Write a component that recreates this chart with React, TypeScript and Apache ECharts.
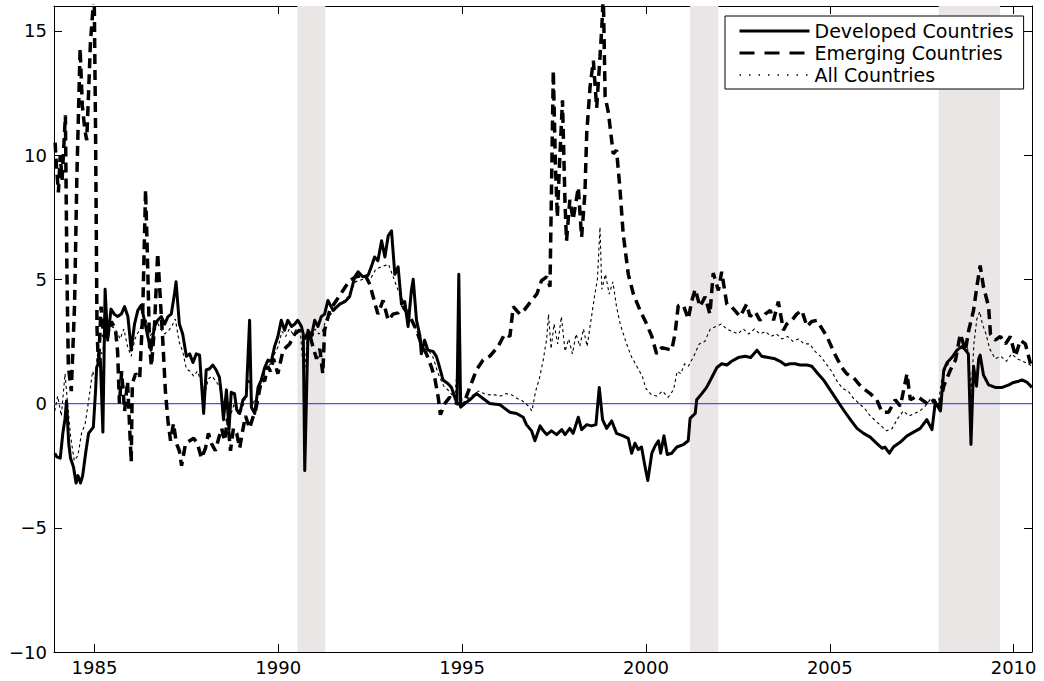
import { useEffect, useRef } from 'react';
import * as echarts from 'echarts';

const X_MIN = 1983.9;
const X_MAX = 2010.5;
const Y_MIN = -10;
const Y_MAX = 16;
const xTicks = [1985, 1990, 1995, 2000, 2005, 2010];
const yTicks = [-10, -5, 0, 5, 10, 15];
const seriesNames = ['Developed Countries', 'Emerging Countries', 'All Countries'];
const recessions = [[1990.52, 1991.28], [2001.2, 2001.97], [2007.96, 2009.63]];

const developed = [
  [1983.92, -2.0], [1983.98, -2.15], [1984.07, -2.2], [1984.14, -1.2], [1984.2, -0.6], [1984.24, 0.1], [1984.3, -1.6],
  [1984.35, -2.2], [1984.43, -2.55], [1984.5, -3.2], [1984.55, -2.9], [1984.62, -3.2], [1984.68, -2.9], [1984.76, -2.0],
  [1984.84, -1.2], [1984.97, -0.95], [1985.03, 0.5], [1985.06, 1.45], [1985.16, 1.8], [1985.23, -1.15], [1985.29, 4.6],
  [1985.36, 2.55], [1985.45, 3.8], [1985.54, 3.6], [1985.63, 3.5], [1985.73, 3.6], [1985.82, 3.9], [1985.91, 3.5],
  [1986.0, 2.15], [1986.09, 3.2], [1986.18, 3.75], [1986.27, 3.95], [1986.36, 3.35], [1986.45, 2.7], [1986.54, 2.15],
  [1986.63, 3.1], [1986.72, 3.35], [1986.82, 3.5], [1986.91, 3.2], [1987.0, 3.5], [1987.09, 3.6], [1987.18, 4.45],
  [1987.22, 4.9], [1987.31, 3.2], [1987.4, 2.8], [1987.5, 1.9], [1987.59, 2.0], [1987.68, 1.65], [1987.77, 2.0],
  [1987.86, 1.95], [1987.9, 1.05], [1987.97, -0.4], [1988.04, 1.35], [1988.13, 1.4], [1988.22, 1.55], [1988.31, 1.35],
  [1988.4, 1.05], [1988.45, 0.4], [1988.51, -0.65], [1988.59, 0.55], [1988.66, -1.05], [1988.72, 0.45], [1988.81, 0.4],
  [1988.87, -0.25], [1988.95, -0.4], [1989.04, 0.15], [1989.13, 0.3], [1989.22, 3.35], [1989.27, -0.15], [1989.36, -0.4],
  [1989.45, 0.65], [1989.54, 0.95], [1989.63, 1.45], [1989.72, 1.75], [1989.81, 1.7], [1989.9, 2.3], [1989.99, 2.7],
  [1990.08, 3.35], [1990.17, 2.95], [1990.26, 3.35], [1990.36, 3.1], [1990.45, 3.2], [1990.53, 3.35], [1990.63, 3.1],
  [1990.68, 2.8], [1990.72, -2.7], [1990.81, 2.95], [1990.9, 2.7], [1990.99, 3.35], [1991.08, 3.1], [1991.17, 3.5],
  [1991.26, 3.6], [1991.35, 4.15], [1991.49, 3.75], [1991.67, 4.0], [1991.81, 4.1], [1991.94, 4.3], [1992.08, 5.1],
  [1992.17, 5.3], [1992.3, 5.1], [1992.44, 5.15], [1992.53, 5.5], [1992.62, 5.9], [1992.71, 5.75], [1992.81, 6.55],
  [1992.9, 5.9], [1992.99, 6.75], [1993.08, 6.95], [1993.17, 5.2], [1993.26, 5.5], [1993.35, 4.0], [1993.44, 4.1],
  [1993.53, 3.1], [1993.62, 4.55], [1993.67, 5.0], [1993.76, 3.35], [1993.85, 2.75], [1993.89, 2.0], [1993.98, 2.55],
  [1994.07, 2.15], [1994.21, 2.1], [1994.3, 1.9], [1994.39, 1.45], [1994.48, 0.95], [1994.62, 0.8], [1994.71, 0.65],
  [1994.8, 0.25], [1994.86, 0.0], [1994.91, 5.2], [1994.96, -0.15], [1995.07, 0.0], [1995.21, 0.15], [1995.39, 0.4],
  [1995.57, 0.2], [1995.75, 0.0], [1996.03, -0.05], [1996.3, -0.35], [1996.48, -0.4], [1996.66, -0.55], [1996.75, -0.85],
  [1996.89, -1.1], [1996.98, -1.5], [1997.12, -0.9], [1997.21, -1.1], [1997.3, -1.25], [1997.43, -1.1], [1997.57, -1.25],
  [1997.71, -1.05], [1997.8, -1.25], [1997.93, -1.0], [1998.02, -1.2], [1998.16, -0.55], [1998.25, -1.05], [1998.39, -0.85],
  [1998.52, -0.9], [1998.64, -0.85], [1998.73, 0.65], [1998.82, -0.65], [1998.93, -1.0], [1999.07, -0.7], [1999.2, -1.2],
  [1999.38, -1.3], [1999.52, -1.4], [1999.61, -2.0], [1999.7, -1.6], [1999.79, -1.85], [1999.88, -1.75], [1999.97, -2.5],
  [2000.05, -3.1], [2000.16, -2.0], [2000.25, -1.7], [2000.34, -1.5], [2000.4, -2.0], [2000.49, -1.3], [2000.58, -2.05],
  [2000.7, -2.0], [2000.84, -1.75], [2001.02, -1.65], [2001.15, -1.5], [2001.2, -0.6], [2001.34, -0.4], [2001.38, 0.15],
  [2001.52, 0.4], [2001.65, 0.65], [2001.79, 1.05], [2001.93, 1.45], [2002.06, 1.6], [2002.2, 1.55], [2002.33, 1.7],
  [2002.51, 1.85], [2002.7, 1.9], [2002.85, 1.85], [2003.02, 2.15], [2003.15, 1.9], [2003.33, 1.85], [2003.51, 1.8],
  [2003.65, 1.7], [2003.79, 1.55], [2003.92, 1.6], [2004.06, 1.6], [2004.19, 1.55], [2004.38, 1.55], [2004.51, 1.5],
  [2004.65, 1.25], [2004.83, 0.95], [2005.01, 0.55], [2005.19, 0.15], [2005.37, -0.25], [2005.56, -0.65], [2005.74, -1.0],
  [2005.92, -1.2], [2006.1, -1.35], [2006.24, -1.55], [2006.42, -1.8], [2006.5, -1.75], [2006.62, -2.0], [2006.73, -1.75],
  [2006.92, -1.55], [2007.1, -1.3], [2007.28, -1.15], [2007.46, -1.0], [2007.64, -0.65], [2007.78, -1.05], [2007.87, 0.05],
  [2008.01, -0.3], [2008.1, 1.35], [2008.19, 1.65], [2008.32, 1.85], [2008.46, 2.15], [2008.6, 2.3], [2008.69, 2.15],
  [2008.77, 2.0], [2008.84, -1.65], [2008.91, 1.5], [2008.99, 0.7], [2009.05, 1.8], [2009.09, 1.95], [2009.18, 1.15],
  [2009.32, 0.75], [2009.5, 0.65], [2009.69, 0.65], [2009.87, 0.75], [2010.0, 0.85], [2010.14, 0.9], [2010.23, 0.95],
  [2010.37, 0.85], [2010.5, 0.65],
];

const emerging = [
  [1983.93, 10.5], [1983.97, 9.5], [1984.02, 8.5], [1984.07, 10.0], [1984.12, 9.0], [1984.21, 11.6], [1984.25, 5.5],
  [1984.29, 1.5], [1984.37, 0.5], [1984.46, 4.0], [1984.52, 9.0], [1984.61, 14.3], [1984.67, 12.0], [1984.74, 11.0],
  [1984.79, 10.6], [1984.84, 12.5], [1984.89, 14.5], [1984.95, 15.7], [1984.99, 17.0], [1985.03, 11.0], [1985.07, 3.0],
  [1985.11, 1.5], [1985.18, 3.9], [1985.25, 2.7], [1985.35, 2.7], [1985.46, 3.3], [1985.57, 3.0], [1985.63, 2.1],
  [1985.68, 0.0], [1985.74, 1.3], [1985.82, -0.3], [1985.9, 0.9], [1986.0, -2.35], [1986.03, 0.8], [1986.12, 1.2],
  [1986.23, 1.0], [1986.31, 3.5], [1986.39, 8.6], [1986.44, 6.0], [1986.5, 2.3], [1986.55, 1.5], [1986.63, 3.0],
  [1986.72, 6.05], [1986.8, 4.0], [1986.86, 2.5], [1986.93, 0.5], [1987.0, -0.7], [1987.07, -1.5], [1987.15, -0.8],
  [1987.23, -1.6], [1987.31, -1.9], [1987.37, -2.5], [1987.48, -1.6], [1987.59, -1.5], [1987.7, -1.4], [1987.8, -1.6],
  [1987.91, -2.2], [1988.02, -1.8], [1988.1, -1.2], [1988.18, -1.6], [1988.29, -1.9], [1988.38, -1.4], [1988.46, -1.0],
  [1988.54, -1.5], [1988.62, -0.6], [1988.7, -1.9], [1988.78, -1.0], [1988.87, -1.2], [1988.95, -1.8], [1989.03, -1.1],
  [1989.11, -0.5], [1989.22, -1.0], [1989.3, -0.6], [1989.38, -0.3], [1989.47, 0.4], [1989.55, 1.0], [1989.63, 0.9],
  [1989.71, 1.5], [1989.79, 1.3], [1989.87, 1.8], [1989.99, 1.2], [1990.13, 2.15], [1990.31, 2.4], [1990.45, 2.8],
  [1990.58, 2.95], [1990.72, 2.6], [1990.83, 2.9], [1990.94, 2.3], [1991.04, 1.8], [1991.13, 2.2], [1991.21, 1.2],
  [1991.26, 2.95], [1991.4, 3.75], [1991.58, 4.15], [1991.76, 4.55], [1991.94, 4.95], [1992.12, 5.1], [1992.35, 5.2],
  [1992.49, 4.8], [1992.58, 4.3], [1992.71, 3.6], [1992.85, 4.15], [1992.99, 3.35], [1993.12, 3.6], [1993.26, 3.65],
  [1993.39, 3.9], [1993.58, 3.5], [1993.76, 2.95], [1993.89, 2.4], [1994.03, 2.0], [1994.17, 1.45], [1994.26, 1.0],
  [1994.35, 0.25], [1994.41, -0.45], [1994.53, 0.0], [1994.66, 0.25], [1994.85, 0.0], [1995.03, -0.05], [1995.21, 0.65],
  [1995.39, 1.35], [1995.57, 1.75], [1995.75, 1.9], [1995.98, 2.3], [1996.16, 2.8], [1996.3, 2.7], [1996.39, 3.9],
  [1996.57, 3.6], [1996.71, 3.8], [1996.89, 4.15], [1997.03, 4.4], [1997.16, 4.95], [1997.3, 5.1], [1997.39, 4.7],
  [1997.48, 13.4], [1997.54, 9.5], [1997.59, 7.5], [1997.66, 10.0], [1997.73, 12.2], [1997.8, 8.0], [1997.84, 6.55],
  [1997.93, 8.2], [1998.02, 7.4], [1998.16, 8.7], [1998.25, 6.7], [1998.34, 8.45], [1998.39, 10.9], [1998.48, 12.75],
  [1998.57, 13.8], [1998.66, 11.9], [1998.75, 13.95], [1998.8, 15.15], [1998.84, 16.5], [1998.89, 12.35], [1998.98, 11.7],
  [1999.11, 10.05], [1999.2, 10.2], [1999.29, 8.7], [1999.38, 6.85], [1999.52, 5.2], [1999.66, 4.4], [1999.84, 3.75],
  [2000.02, 3.2], [2000.16, 2.7], [2000.29, 2.0], [2000.43, 2.25], [2000.57, 2.2], [2000.7, 2.15], [2000.79, 2.8],
  [2000.88, 3.95], [2001.02, 3.95], [2001.15, 3.4], [2001.25, 4.15], [2001.34, 4.6], [2001.47, 3.9], [2001.61, 4.3],
  [2001.74, 3.6], [2001.83, 5.25], [2001.97, 4.55], [2002.06, 5.3], [2002.2, 4.0], [2002.33, 3.9], [2002.56, 3.5],
  [2002.74, 4.0], [2002.83, 3.5], [2002.97, 3.7], [2003.1, 3.35], [2003.24, 3.6], [2003.38, 3.75], [2003.47, 3.35],
  [2003.6, 4.1], [2003.74, 2.95], [2003.83, 3.2], [2003.97, 3.35], [2004.1, 3.6], [2004.24, 3.75], [2004.38, 3.1],
  [2004.51, 3.3], [2004.65, 3.35], [2004.92, 2.7], [2005.15, 1.95], [2005.33, 1.45], [2005.46, 1.2], [2005.64, 1.05],
  [2005.87, 0.65], [2006.1, 0.4], [2006.28, 0.15], [2006.42, -0.35], [2006.6, -0.35], [2006.78, 0.15], [2006.92, -0.1],
  [2007.1, 1.2], [2007.19, 0.15], [2007.37, 0.3], [2007.51, 0.15], [2007.69, -0.05], [2007.83, 0.15], [2007.96, -0.25],
  [2008.1, 0.7], [2008.28, 1.35], [2008.42, 1.75], [2008.55, 2.8], [2008.69, 2.15], [2008.78, 2.95], [2008.91, 3.75],
  [2009.0, 4.7], [2009.09, 5.55], [2009.18, 4.7], [2009.32, 3.9], [2009.37, 2.8], [2009.5, 2.55], [2009.64, 2.7],
  [2009.78, 2.4], [2009.91, 2.7], [2010.05, 1.9], [2010.18, 2.55], [2010.32, 2.4], [2010.46, 1.6],
];

const allCountries = [
  [1983.92, -0.3], [1984.0, 0.3], [1984.1, -0.5], [1984.2, 1.2], [1984.27, 0.0], [1984.35, -1.3], [1984.45, -2.3],
  [1984.55, -2.1], [1984.65, -1.2], [1984.75, -0.8], [1984.85, 0.2], [1984.95, 1.3], [1985.02, 1.0], [1985.1, 2.2],
  [1985.2, 2.0], [1985.3, 2.6], [1985.4, 2.9], [1985.5, 3.1], [1985.6, 2.9], [1985.7, 2.6], [1985.8, 3.0], [1985.9, 2.3],
  [1986.0, 1.9], [1986.1, 2.6], [1986.2, 2.9], [1986.3, 3.2], [1986.4, 3.4], [1986.5, 2.7], [1986.6, 2.9], [1986.7, 3.3],
  [1986.8, 3.0], [1986.9, 2.8], [1987.0, 2.9], [1987.1, 3.1], [1987.2, 3.4], [1987.3, 2.5], [1987.4, 2.1], [1987.5, 1.4],
  [1987.6, 1.3], [1987.7, 1.1], [1987.8, 1.3], [1987.9, 0.9], [1988.0, 0.4], [1988.1, 1.0], [1988.2, 1.1], [1988.3, 0.9],
  [1988.4, 0.7], [1988.5, 0.0], [1988.6, 0.3], [1988.7, -0.5], [1988.8, 0.0], [1988.9, -0.4], [1989.0, -0.3], [1989.1, 0.2],
  [1989.2, 1.0], [1989.3, 0.0], [1989.4, 0.2], [1989.5, 0.8], [1989.6, 1.1], [1989.7, 1.5], [1989.8, 1.6], [1989.9, 2.0],
  [1990.0, 2.3], [1990.1, 2.9], [1990.2, 2.7], [1990.3, 3.0], [1990.4, 2.8], [1990.5, 3.0], [1990.6, 2.9], [1990.7, 1.0],
  [1990.8, 2.8], [1990.9, 2.5], [1991.0, 3.0], [1991.1, 2.8], [1991.2, 2.9], [1991.3, 3.4], [1991.5, 3.7], [1991.7, 4.0],
  [1991.9, 4.3], [1992.1, 4.9], [1992.3, 5.0], [1992.5, 5.0], [1992.65, 5.4], [1992.8, 5.5], [1993.0, 5.6], [1993.15, 5.0],
  [1993.3, 4.4], [1993.45, 4.0], [1993.6, 3.4], [1993.75, 3.0], [1993.9, 2.4], [1994.05, 2.2], [1994.2, 1.9], [1994.35, 1.2],
  [1994.5, 0.7], [1994.65, 0.5], [1994.8, 0.2], [1994.9, 2.0], [1995.0, 0.0], [1995.15, 0.2], [1995.3, 0.35], [1995.45, 0.5],
  [1995.6, 0.4], [1995.75, 0.35], [1995.9, 0.35], [1996.05, 0.3], [1996.2, 0.4], [1996.35, 0.35], [1996.5, 0.2],
  [1996.65, 0.1], [1996.8, -0.1], [1996.9, -0.3], [1997.0, 0.5], [1997.1, 1.0], [1997.2, 1.7], [1997.3, 2.6], [1997.35, 3.6],
  [1997.42, 2.2], [1997.5, 3.2], [1997.6, 2.4], [1997.7, 3.5], [1997.8, 2.1], [1997.9, 2.6], [1998.0, 2.0], [1998.1, 2.8],
  [1998.2, 2.3], [1998.3, 3.0], [1998.4, 2.3], [1998.5, 3.3], [1998.6, 4.3], [1998.68, 5.0], [1998.75, 7.1], [1998.8, 4.6],
  [1998.9, 5.2], [1999.0, 4.4], [1999.1, 4.9], [1999.2, 3.9], [1999.3, 3.2], [1999.45, 2.5], [1999.6, 1.9], [1999.75, 1.5],
  [1999.9, 1.1], [2000.0, 0.6], [2000.15, 0.35], [2000.3, 0.3], [2000.45, 0.5], [2000.6, 0.25], [2000.75, 0.55],
  [2000.85, 1.3], [2000.95, 1.2], [2001.05, 1.6], [2001.15, 1.5], [2001.3, 1.9], [2001.45, 2.4], [2001.6, 2.5],
  [2001.75, 3.0], [2001.9, 3.1], [2002.05, 3.2], [2002.2, 3.0], [2002.35, 2.9], [2002.5, 2.8], [2002.65, 3.0], [2002.8, 2.8],
  [2002.95, 3.0], [2003.1, 2.8], [2003.25, 2.9], [2003.4, 2.7], [2003.55, 2.8], [2003.7, 2.6], [2003.85, 2.7], [2004.0, 2.5],
  [2004.15, 2.6], [2004.3, 2.4], [2004.45, 2.4], [2004.6, 2.1], [2004.75, 1.9], [2004.9, 1.6], [2005.05, 1.3], [2005.2, 0.9],
  [2005.35, 0.6], [2005.5, 0.5], [2005.65, 0.2], [2005.8, 0.0], [2005.95, -0.2], [2006.1, -0.5], [2006.25, -0.7],
  [2006.4, -0.9], [2006.55, -1.1], [2006.7, -1.0], [2006.85, -0.6], [2007.0, -0.3], [2007.15, -0.5], [2007.3, -0.4],
  [2007.45, -0.3], [2007.6, -0.1], [2007.75, 0.2], [2007.85, -0.2], [2007.95, 0.0], [2008.05, 1.0], [2008.15, 1.4],
  [2008.3, 1.8], [2008.45, 2.1], [2008.6, 2.3], [2008.75, 2.2], [2008.85, 0.5], [2008.92, 2.4], [2009.0, 3.4],
  [2009.08, 3.7], [2009.15, 3.2], [2009.25, 2.8], [2009.35, 2.2], [2009.5, 1.8], [2009.65, 1.9], [2009.8, 1.7],
  [2009.95, 2.0], [2010.1, 1.8], [2010.25, 1.7], [2010.4, 1.6], [2010.5, 1.5],
];

const zeroLine = [[X_MIN, 0], [X_MAX, 0]];

export default function App() {
  const ref = useRef<HTMLDivElement>(null);

  useEffect(() => {
    document.body.style.margin = '0';
    const chart = echarts.init(ref.current as HTMLDivElement, null, { renderer: 'svg' });
    const font = 'DejaVu Sans';
    const black = '#000';
    const yFmt = (v: number) => String(v).replace('-', '\u2212');
    const xFmt = (v: number) => String(Math.round(v));

    const xAxisBase = {
      type: 'value',
      min: X_MIN,
      max: X_MAX,
      splitLine: { show: false },
      axisLine: { show: true, onZero: false, lineStyle: { color: black, width: 1 } },
      axisTick: { show: true, inside: true, length: 8, customValues: xTicks, lineStyle: { color: black, width: 1 } },
    };
    const yAxisBase = {
      type: 'value',
      min: Y_MIN,
      max: Y_MAX,
      splitLine: { show: false },
      axisLine: { show: true, onZero: false, lineStyle: { color: black, width: 1 } },
      axisTick: { show: true, inside: true, length: 8, customValues: yTicks, lineStyle: { color: black, width: 1 } },
    };

    chart.setOption({
      animation: false,
      backgroundColor: '#fff',
      grid: { left: 54, right: 12, top: 6, bottom: 29, containLabel: false },
      xAxis: [
        {
          ...xAxisBase,
          position: 'bottom',
          axisLabel: { customValues: xTicks, color: black, fontFamily: font, fontSize: 18, margin: 6, formatter: xFmt },
        },
        { ...xAxisBase, position: 'top', axisLabel: { show: false } },
      ],
      yAxis: [
        {
          ...yAxisBase,
          position: 'left',
          axisLabel: { customValues: yTicks, color: black, fontFamily: font, fontSize: 18, margin: 7, formatter: yFmt },
        },
        { ...yAxisBase, position: 'right', axisLabel: { show: false } },
      ],
      legend: {
        data: [
          { name: seriesNames[0], lineStyle: { width: 3, type: 'solid', color: black } },
          { name: seriesNames[1], lineStyle: { width: 3, type: [15, 10], color: black } },
          { name: seriesNames[2], lineStyle: { width: 1.5, type: [1.5, 8], color: black } },
        ],
        orient: 'vertical',
        left: 725,
        top: 16,
        padding: [4, 10, 3, 13],
        itemGap: 0,
        itemWidth: 70,
        itemHeight: 14,
        backgroundColor: '#fff',
        borderColor: black,
        borderWidth: 1,
        borderRadius: 0,
        selectedMode: false,
        itemStyle: { opacity: 0 },
        textStyle: { fontFamily: font, fontSize: 19, color: black, lineHeight: 22 },
      },
      series: [
        {
          name: 'zero',
          type: 'line',
          data: zeroLine,
          symbol: 'none',
          z: 2,
          silent: true,
          lineStyle: { color: '#4f4ff5', width: 1.3 },
          markArea: {
            silent: true,
            z: 1,
            itemStyle: { color: '#ebe6e6' },
            data: recessions.map(([a, b]) => [{ xAxis: a }, { xAxis: b }]),
          },
        },
        {
          name: seriesNames[1],
          type: 'line',
          data: emerging,
          symbol: 'none',
          z: 3,
          lineStyle: { color: black, width: 3.5, type: [10, 6], cap: 'butt' },
        },
        {
          name: seriesNames[2],
          type: 'line',
          data: allCountries,
          symbol: 'none',
          z: 3,
          lineStyle: { color: black, width: 1.1, type: [3, 3] },
        },
        {
          name: seriesNames[0],
          type: 'line',
          data: developed,
          symbol: 'none',
          z: 4,
          lineStyle: { color: black, width: 3, type: 'solid', join: 'round' },
        },
      ],
    });

    return () => chart.dispose();
  }, []);

  return (
    <div
      ref={ref}
      style={{ position: 'fixed', left: 0, top: 0, width: 1044, height: 681, background: '#fff' }}
    />
  );
}
